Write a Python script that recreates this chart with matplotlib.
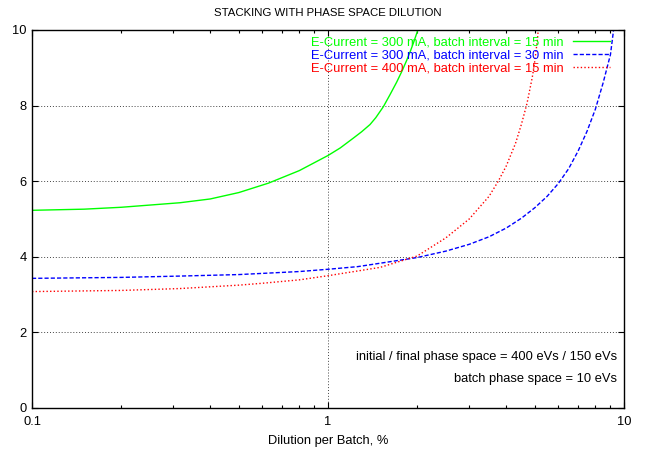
import matplotlib
matplotlib.use('Agg')
import matplotlib.pyplot as plt
from matplotlib.ticker import NullFormatter

plt.rcParams['font.family'] = ['Liberation Sans', 'DejaVu Sans']
plt.rcParams['font.size'] = 9.3

# Courbes (x = dilution par batch en %, y = valeur)
green_x = [0.1, 0.15, 0.2, 0.316, 0.4, 0.5, 0.63, 0.8, 1.0, 1.1, 1.218, 1.3, 1.387,
           1.45, 1.538, 1.62, 1.706, 1.78, 1.845, 1.9, 1.942, 2.0, 2.02]
green_y = [5.23, 5.26, 5.31, 5.43, 5.53, 5.70, 5.95, 6.28, 6.68, 6.88, 7.14, 7.31, 7.50,
           7.68, 7.97, 8.29, 8.62, 8.92, 9.20, 9.45, 9.65, 9.94, 10.05]

blue_x = [0.1, 0.2, 0.316, 0.5, 0.8, 1.0, 1.26, 1.5, 2.0, 2.5, 3.0, 3.5, 4.0, 4.5,
          5.0, 5.5, 6.0, 6.5, 7.0, 7.5, 8.0, 8.5, 9.0, 9.22]
blue_y = [3.43, 3.455, 3.49, 3.53, 3.61, 3.67, 3.74, 3.83, 3.98, 4.15, 4.33, 4.53, 4.76, 5.02,
          5.30, 5.60, 5.94, 6.33, 6.80, 7.32, 7.90, 8.60, 9.35, 10.0]

red_x = [0.1, 0.2, 0.316, 0.5, 0.6, 0.8, 1.0, 1.5, 2.0, 2.5, 3.0, 3.5, 3.76, 4.0,
         4.3, 4.5, 4.7, 4.9, 5.0, 5.1, 5.13]
red_y = [3.08, 3.11, 3.16, 3.25, 3.30, 3.39, 3.50, 3.72, 4.02, 4.50, 5.00, 5.60, 6.00, 6.40,
         7.00, 7.50, 8.05, 8.75, 9.20, 9.75, 10.0]

labels = ['E-Current = 300 mA, batch interval = 15 min',
          'E-Current = 300 mA, batch interval = 30 min',
          'E-Current = 400 mA, batch interval = 15 min']

fig = plt.figure(figsize=(6.46, 4.5), dpi=100)
ax = fig.add_axes([32 / 646, 1 - 408 / 450, 592 / 646, 378 / 450])

ax.plot(green_x, green_y, color='#00ff00', lw=1.0, label=labels[0])
ax.plot(blue_x, blue_y, color='#0000ff', lw=1.0, ls=(0, (3, 1.5)), label=labels[1])
ax.plot(red_x, red_y, color='#ff0000', lw=1.0, ls=(0, (1, 1.6)), label=labels[2])

ax.set_xscale('log')
ax.set_xlim(0.1, 10)
ax.set_ylim(0, 10)
ax.set_xticks([0.1, 1, 10], ['0.1', '1', '10'])
ax.xaxis.set_minor_formatter(NullFormatter())
ax.set_yticks([0, 2, 4, 6, 8, 10])

ax.tick_params(which='both', direction='in', top=True, right=True)
ax.tick_params(which='major', length=4.5, width=0.8)
ax.tick_params(which='minor', length=2.5, width=0.8)
ax.tick_params(axis='x', pad=6)
ax.tick_params(axis='y', pad=4)
for s in ax.spines.values():
    s.set_linewidth(1.0)

ax.grid(True, which='major', color='#444444', ls=(0, (1, 2)), lw=0.7)

ax.set_title('STACKING WITH PHASE SPACE DILUTION', pad=10, fontsize=8.2)
ax.set_xlabel('Dilution per Batch, %', labelpad=5)

leg = ax.legend(loc='upper right', bbox_to_anchor=((610 - 32) / 592, (408 - 36) / 378),
                frameon=False, markerfirst=False, borderpad=0, borderaxespad=0,
                labelspacing=0.1, handlelength=2.9, handletextpad=0.7)
for txt, line in zip(leg.get_texts(), leg.get_lines()):
    txt.set_color(line.get_color())

ax.text((617 - 32) / 592, (408 - 357) / 378, 'initial / final phase space = 400 eVs / 150 eVs',
        transform=ax.transAxes, ha='right', va='center')
ax.text((617 - 32) / 592, (408 - 379) / 378, 'batch phase space = 10 eVs',
        transform=ax.transAxes, ha='right', va='center')

fig.savefig('out.png', dpi=100)
